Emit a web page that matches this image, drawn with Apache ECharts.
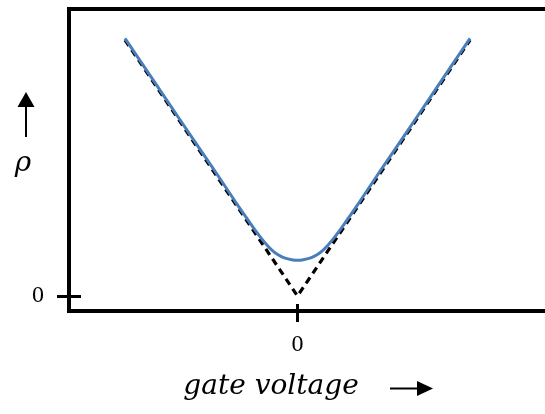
<!DOCTYPE html>
<html>
<head>
<meta charset="utf-8">
<script src="https://cdn.jsdelivr.net/npm/echarts@6/dist/echarts.min.js"></script>
<style>
  html, body { margin: 0; padding: 0; background: #fff; }
  #chart { width: 545px; height: 414px; }
</style>
</head>
<body>
<div id="chart"></div>
<script>
// Measured resistivity vs gate voltage (arbitrary units)
const gateVoltage = [-1.0, -0.85, -0.70, -0.55, -0.449, -0.362, -0.304, -0.246, -0.206, -0.171, -0.142, -0.113, -0.084, -0.055, -0.026, 0,
                     0.026, 0.055, 0.084, 0.113, 0.142, 0.171, 0.206, 0.246, 0.304, 0.362, 0.449, 0.55, 0.70, 0.85, 1.0];
const rho = [1.006, 0.857, 0.707, 0.558, 0.458, 0.370, 0.313, 0.257, 0.222, 0.194, 0.175, 0.161, 0.151, 0.145, 0.141, 0.140,
             0.141, 0.145, 0.151, 0.161, 0.175, 0.194, 0.222, 0.257, 0.313, 0.370, 0.458, 0.558, 0.707, 0.857, 1.006];

// Ideal V-shaped dependence
const idealVoltage = [-1, 0, 1];
const idealRho = [1, 0, 1];

// Tick positions on both axes
const xTicks = [0];
const yTicks = [0];

const serifFont = '"Liberation Serif", "DejaVu Serif", serif';
const italicFont = '"DejaVu Serif", "Liberation Serif", serif';

const pairs = (xs, ys) => xs.map((x, i) => [x, ys[i]]);

const tickStyle = { color: '#000', width: 3 };
const hiddenLine = { show: false, onZero: false };

const chart = echarts.init(document.getElementById('chart'), null, { renderer: 'canvas' });

chart.setOption({
  animation: false,
  backgroundColor: '#fff',
  grid: {
    left: 69, top: 9, width: 478.5, height: 302,
    outerBoundsMode: 'none',
    containLabel: false,
    show: true, borderColor: '#000', borderWidth: 4,
    backgroundColor: 'transparent'
  },
  // axes are shifted inward so that the tick marks straddle the frame
  xAxis: {
    type: 'value', min: -1.3246, max: 1.449, position: 'bottom', offset: -7,
    axisLine: hiddenLine, splitLine: { show: false },
    axisTick: { show: true, customValues: xTicks, length: 18, lineStyle: tickStyle },
    axisLabel: {
      customValues: xTicks, margin: 29, color: '#000',
      fontFamily: serifFont, fontSize: 24
    }
  },
  yAxis: {
    type: 'value', min: -0.0586, max: 1.1211, position: 'left', offset: -12,
    axisLine: hiddenLine, splitLine: { show: false },
    axisTick: { show: true, customValues: yTicks, length: 24, lineStyle: tickStyle },
    axisLabel: {
      customValues: yTicks, margin: 37, color: '#000',
      fontFamily: serifFont, fontSize: 24
    }
  },
  series: [
    {
      type: 'line',
      data: pairs(idealVoltage, idealRho),
      showSymbol: false,
      lineStyle: { color: '#000', width: 3.2, type: [7, 5] },
      z: 2
    },
    {
      type: 'line',
      data: pairs(gateVoltage, rho),
      showSymbol: false,
      smooth: 0.2,
      lineStyle: { color: '#4a7ebb', width: 3 },
      z: 3
    }
  ],
  graphic: [
    // rho axis title with upward arrow
    { type: 'line', shape: { x1: 26, y1: 137, x2: 26, y2: 104 }, style: { stroke: '#000', lineWidth: 2 } },
    { type: 'polygon', shape: { points: [[17.5, 107], [34.5, 107], [26, 92]] }, style: { fill: '#000' } },
    {
      type: 'text', x: 23, y: 164,
      style: { text: 'ρ', font: 'italic 28px ' + italicFont, fill: '#000', align: 'center', verticalAlign: 'middle' }
    },
    // gate voltage axis title with rightward arrow
    {
      type: 'text', x: 271, y: 387,
      style: { text: 'gate voltage', font: 'italic 28px ' + italicFont, fill: '#000', align: 'center', verticalAlign: 'middle' }
    },
    { type: 'line', shape: { x1: 390, y1: 388.5, x2: 420, y2: 388.5 }, style: { stroke: '#000', lineWidth: 2 } },
    { type: 'polygon', shape: { points: [[417, 381], [417, 396], [433, 388.5]] }, style: { fill: '#000' } }
  ]
});
</script>
</body>
</html>
